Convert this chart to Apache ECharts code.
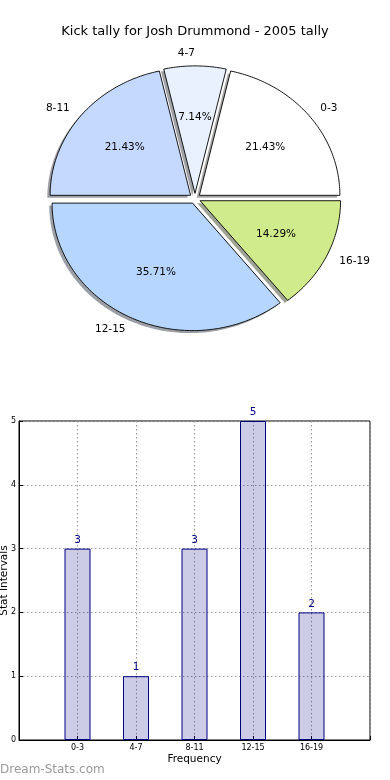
<!DOCTYPE html>
<html>
<head>
<meta charset="utf-8">
<script src="https://cdn.jsdelivr.net/npm/echarts@6/dist/echarts.min.js"></script>
<style>
html,body{margin:0;padding:0;background:#fff;}
#main{width:390px;height:780px;}
</style>
</head>
<body>
<div id="main"></div>
<script>
// ---- data ----
const titleText = 'Kick tally for Josh Drummond - 2005 tally';
const categories = ['0-3', '4-7', '8-11', '12-15', '16-19'];
const counts = [3, 1, 3, 5, 2];
const pieColors = ['#ffffff', '#e9f1ff', '#c5d9ff', '#b6d6ff', '#d0eb8b'];
const yTicks = [0, 1, 2, 3, 4, 5];
const xAxisName = 'Frequency';
const yAxisName = 'Stat Intervals';
const watermark = 'Dream-Stats.com';

// ---- pie geometry (elliptical, matplotlib-like) ----
const FONT = 'DejaVu Sans';
const PCX = 195, PCY = 198.5, PRX = 140.5, PRY = 127.5, EXPLODE = 0.04;
const total = counts.reduce((a, b) => a + b, 0);

function hexToRgb(h) {
  const n = parseInt(h.slice(1), 16);
  return [(n >> 16) & 255, (n >> 8) & 255, n & 255];
}

function renderWedge(params, api) {
  const i = params.dataIndex;
  const v = api.value(0);
  let before = 0;
  for (let k = 0; k < i; k++) before += counts[k];
  const a0 = before / total * 2 * Math.PI;
  const a1 = (before + v) / total * 2 * Math.PI;
  const am = (a0 + a1) / 2;
  const ox = PCX + EXPLODE * PRX * Math.cos(am);
  const oy = PCY - EXPLODE * PRY * Math.sin(am);
  const pts = [[ox, oy]];
  const steps = Math.max(8, Math.ceil((a1 - a0) / (Math.PI / 180)));
  for (let s = 0; s <= steps; s++) {
    const a = a0 + (a1 - a0) * s / steps;
    pts.push([ox + PRX * Math.cos(a), oy - PRY * Math.sin(a)]);
  }
  const shPts = pts.map(p => [p[0] - 2.8, p[1] + 2.5]);
  const rgb = hexToRgb(pieColors[i]);
  const shColor = 'rgba(' + rgb.map(c => Math.round(c * 0.3)).join(',') + ',0.5)';
  const c = Math.cos(am), sn = Math.sin(am);
  const lx = ox + 1.1 * PRX * c, ly = oy - 1.1 * PRY * sn;
  const px = ox + 0.6 * PRX * c, py = oy - 0.6 * PRY * sn;
  const pct = (v / total * 100).toFixed(2) + '%';
  return {
    type: 'group',
    children: [
      { type: 'polygon', z2: 1, shape: { points: shPts }, style: { fill: shColor } },
      { type: 'polygon', z2: 10, shape: { points: pts }, style: { fill: pieColors[i], stroke: '#000', lineWidth: 0.9 } },
      { type: 'text', z2: 20, style: { x: lx, y: ly, text: categories[i], fill: '#000', font: '10.5px "' + FONT + '"', textAlign: c > 0.01 ? 'left' : 'right', textVerticalAlign: 'middle' } },
      { type: 'text', z2: 20, style: { x: px, y: py, text: pct, fill: '#000', font: '10.5px "' + FONT + '"', textAlign: 'center', textVerticalAlign: 'middle' } }
    ]
  };
}

const chart = echarts.init(document.getElementById('main'), null, { renderer: 'canvas' });
const option = {
  animation: false,
  backgroundColor: '#fff',
  textStyle: { fontFamily: FONT },
  title: {
    text: titleText, left: 'center', top: 20,
    textStyle: { fontFamily: FONT, fontSize: 13, fontWeight: 'normal', color: '#000' }
  },
  grid: {
    left: 19, right: 20, top: 421, bottom: 40,
    containLabel: false, outerBoundsMode: 'none',
    show: true, borderColor: '#000', borderWidth: 1, backgroundColor: 'transparent'
  },
  xAxis: {
    type: 'value', min: -1, max: 5, interval: 1,
    name: xAxisName, nameLocation: 'middle', nameGap: 14, nameMoveOverlap: false,
    nameTextStyle: { fontFamily: FONT, fontSize: 10.5, color: '#000' },
    axisLine: { show: true, onZero: false, lineStyle: { color: '#000', width: 1 } },
    axisTick: { show: true, inside: true, length: 4, lineStyle: { color: '#000' } },
    axisLabel: {
      margin: 4, fontFamily: FONT, fontSize: 8, color: '#000',
      showMinLabel: true, showMaxLabel: true,
      formatter: v => (v >= 0 && v < categories.length) ? categories[v] : ''
    },
    splitLine: { show: true, lineStyle: { color: '#9a9a9a', type: [1.5, 2.5], width: 1 } }
  },
  yAxis: {
    type: 'value', min: yTicks[0], max: yTicks[yTicks.length - 1], interval: 1,
    name: yAxisName, nameLocation: 'middle', nameGap: 9, nameRotate: 90, nameMoveOverlap: false,
    nameTextStyle: { fontFamily: FONT, fontSize: 10.5, color: '#000' },
    axisLine: { show: true, onZero: false, lineStyle: { color: '#000', width: 1 } },
    axisTick: { show: true, inside: true, length: 4, lineStyle: { color: '#000' } },
    axisLabel: { margin: 3, fontFamily: FONT, fontSize: 8, color: '#000' },
    splitLine: { show: true, lineStyle: { color: '#9a9a9a', type: [1.5, 2.5], width: 1 } }
  },
  series: [
    {
      type: 'custom',
      coordinateSystem: 'none',
      renderItem: renderWedge,
      data: counts.map(v => [v]),
      silent: true
    },
    {
      type: 'bar',
      data: counts.map((v, i) => [i, v]),
      barWidth: 26,
      itemStyle: { color: 'rgba(0,0,128,0.2)', borderColor: '#000080', borderWidth: 1 },
      label: {
        show: true, position: 'top', distance: 3,
        fontFamily: FONT, fontSize: 10.5, color: '#000080',
        formatter: p => String(p.value[1])
      }
    }
  ],
  graphic: [
    {
      type: 'text', left: 0, top: 764,
      style: { text: watermark, font: '12px "' + FONT + '"', fill: '#9a9a9a' }
    }
  ]
};
chart.setOption(option);
</script>
</body>
</html>
